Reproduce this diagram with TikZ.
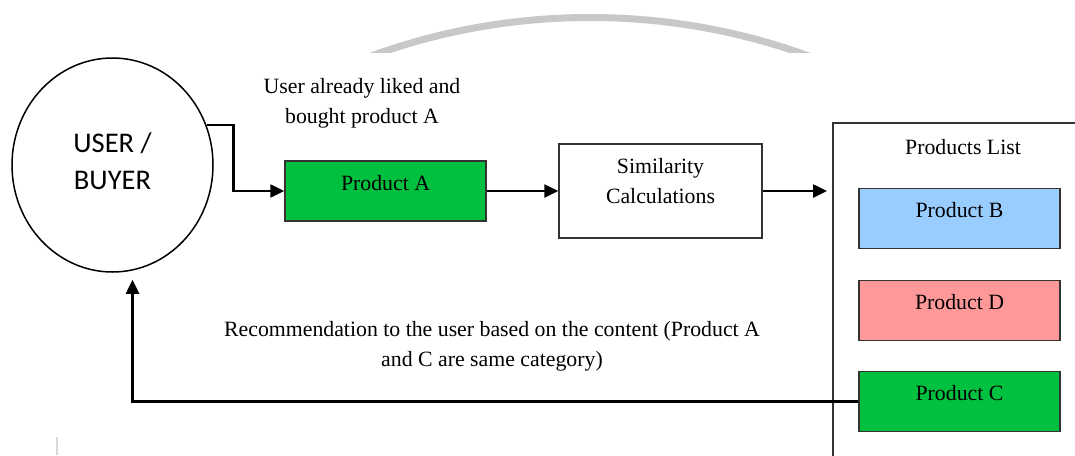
\documentclass[tikz,border=0pt]{standalone}
\usepackage{fontspec}
\setmainfont{Liberation Serif}
\newfontfamily\carlito{Carlito}
\usetikzlibrary{arrows.meta,shapes.geometric,calc}

\definecolor{prodgreen}{RGB}{0,192,64}
\definecolor{prodblue}{RGB}{153,204,255}
\definecolor{prodred}{RGB}{255,153,153}
\definecolor{edgegray}{RGB}{51,51,51}
\definecolor{arcgray}{RGB}{200,200,200}

\begin{document}
\begin{tikzpicture}[x=1pt,y=-1pt,
  every node/.style={font=\fontsize{21.8}{30}\selectfont, inner sep=0pt},
  box/.style={draw=edgegray, line width=1.5pt},
  prodbox/.style={box, minimum width=201pt, minimum height=60pt, text height=14pt, text depth=16pt},
  flow/.style={line width=2.5pt, -{Triangle[length=14pt,width=13pt]}},
  note/.style={align=center}]

\useasboundingbox (0,0) rectangle (1075,455);
\clip (0,0) rectangle (1075,455);

% pale decorative arc along the top
\begin{scope}
  \clip (300,0) rectangle (900,52);
  \draw[arcgray, line width=7pt] (590,655.5) circle[radius=638];
\end{scope}
\draw[black!15, line width=2pt] (57,437) -- (57,455);

% user
\node[draw, line width=1.5pt, ellipse, minimum width=201pt, minimum height=214pt,
      font=\carlito\fontsize{28.5}{37}\selectfont, align=center,
      text height=55pt, text depth=7pt] (user) at (112.5,165) {USER /\\BUYER};

% pipeline
\node[prodbox, fill=prodgreen] (pa) at (385.5,191) {Product A};
\node[box, minimum width=203pt, minimum height=94pt, align=center,
      text height=44pt, text depth=20pt] (sim) at (660.5,191) {Similarity\\Calculations};

% product list
\node[box, minimum width=300pt, minimum height=400pt, anchor=north west] (list) at (832,122) {};
\node (listtitle) at (963,147) {Products List};
\node[prodbox, fill=prodblue] (pb) at (959.5,218.5) {Product B};
\node[prodbox, fill=prodred] (pd) at (959.5,310.5) {Product D};
\node[prodbox, fill=prodgreen] (pc) at (959.5,401.5) {Product C};

% annotations
\node[note] (liked) at (362,103.5) {User already liked and\\bought product A};
\node[note] (rec) at (492,346) {Recommendation to the user based on the content (Product A\\and C are same category)};

% connectors
\coordinate (back) at ([xshift=20pt,yshift=-7pt]user.south);
\draw[flow] (user.23) -- ++(27,0) |- (pa.west);
\draw[flow] (pa.east) -- (sim.west);
\draw[flow, shorten >=5pt] (sim.east) -- (sim.east -| list.west);
\draw[flow] (pc.west) -| (back);
\end{tikzpicture}
\end{document}
